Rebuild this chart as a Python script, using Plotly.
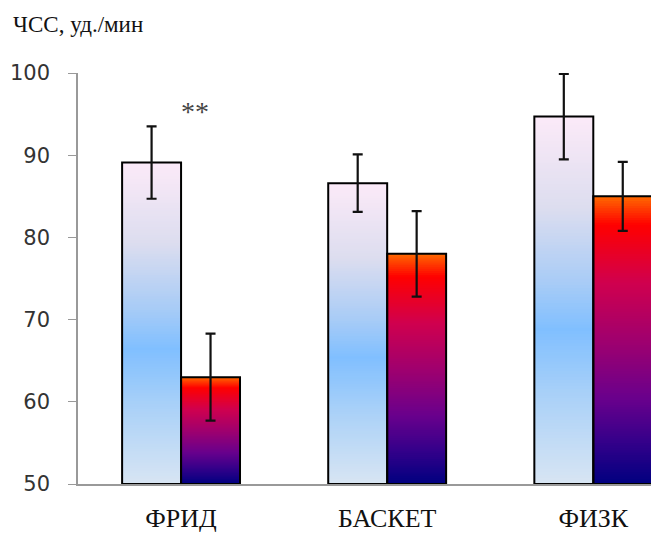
import plotly.graph_objects as go
from plotly.colors import sample_colorscale

categories = ["ФРИД", "БАСКЕТ", "ФИЗК"]
before_vals = [89.1, 86.6, 94.7]
before_err = [4.4, 3.5, 5.2]
after_vals = [63.0, 78.0, 85.0]
after_err = [5.3, 5.2, 4.2]
y_ticks = [50, 60, 70, 80, 90, 100]

BASE = 50
N = 120
W = 0.286

light_scale = [[0.0, "#FCEAF8"], [0.25, "#DCDDEF"], [0.45, "#A9CCF6"],
               [0.58, "#80BFFF"], [0.75, "#A8D0F8"], [1.0, "#D8E5F3"]]
dark_scale = [[0.0, "#FF6A00"], [0.1, "#FF0000"], [0.3, "#D0004E"],
              [0.5, "#A0006E"], [0.7, "#6A008C"], [0.85, "#36008A"], [1.0, "#000080"]]

fig = go.Figure()


def gradient_trace(vals, scale, offset):
    xs, ys, cols = [], [], []
    fracs = [(N - k + 0.5) / N for k in range(N, 0, -1)]
    colors = sample_colorscale(scale, fracs)
    for c, v in zip(categories, vals):
        for i, k in enumerate(range(N, 0, -1)):
            xs.append(c)
            ys.append((v - BASE) * k / N)
            cols.append(colors[i])
    fig.add_trace(go.Bar(x=xs, y=ys, base=BASE, width=W, offset=offset,
                         marker=dict(color=cols, line=dict(width=0)),
                         showlegend=False, hoverinfo="skip"))


def outline_trace(vals, errs, offset):
    fig.add_trace(go.Bar(x=categories, y=[v - BASE for v in vals], base=BASE,
                         width=W, offset=offset,
                         marker=dict(color="rgba(0,0,0,0)", line=dict(color="#000000", width=2)),
                         error_y=dict(type="data", array=errs, color="#111111",
                                      thickness=2.2, width=5),
                         showlegend=False))


gradient_trace(before_vals, light_scale, -W)
gradient_trace(after_vals, dark_scale, 0)
outline_trace(before_vals, before_err, -W)
outline_trace(after_vals, after_err, 0)

fig.add_annotation(x=0.07, y=95.3, xref="x", yref="y", text="**", showarrow=False,
                   font=dict(family="Liberation Serif", size=28, color="#444444"))
fig.add_annotation(xref="paper", yref="paper", x=-0.117, y=1.117,
                   xanchor="left", yanchor="middle", text="ЧСС, уд./мин", showarrow=False,
                   font=dict(family="Liberation Serif", size=23, color="#111111"))

fig.update_layout(
    width=651, height=533,
    margin=dict(l=78, r=0, t=73, b=49),
    barmode="overlay",
    plot_bgcolor="white", paper_bgcolor="white",
    xaxis=dict(type="category", range=[-0.5, 2.28], showline=True, linecolor="#999999",
               linewidth=1.5, ticks="", showgrid=False, zeroline=False,
               tickfont=dict(family="Liberation Serif", size=26, color="#111111"),
               ticklabelstandoff=10),
    yaxis=dict(range=[50, 100], tickvals=y_ticks, showline=True, linecolor="#999999",
               linewidth=1.5, ticks="outside", ticklen=8, tickcolor="#999999",
               showgrid=False, zeroline=False,
               tickfont=dict(family="DejaVu Sans", size=21, color="#333333"),
               ticklabelstandoff=14),
)

fig.write_html("out.html")
